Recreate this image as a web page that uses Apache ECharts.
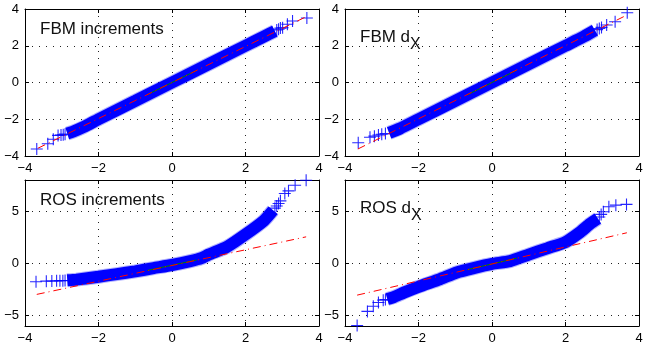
<!DOCTYPE html>
<html>
<head>
<meta charset="utf-8">
<script src="https://cdn.jsdelivr.net/npm/echarts@6/dist/echarts.min.js"></script>
<style>
  html, body { margin: 0; padding: 0; background: #fff; }
  #chart { width: 647px; height: 347px; }
</style>
</head>
<body>
<div id="chart"></div>
<script>
// panel titles ({sub|..} is the subscript)
const titles = ['FBM increments', 'FBM d{sub|X}', 'ROS increments', 'ROS d{sub|X}'];

// axis ticks
const xTicks = [-4, -2, 0, 2, 4];
const topYTicks = [-4, -2, 0, 2, 4];
const bottomYTicks = [-5, 0, 5];
const bottomYRange = [-6, 8];

// dense middle of each QQ cloud: [normal quantile, sample quantile]
const fbmIncBand = [[-2.85, -2.78], [-2.7, -2.68], [-2.4, -2.42], [-2.0, -2.0], [-1.0, -1.0], [0, 0], [1.0, 1.0], [2.0, 2.0], [2.5, 2.5], [2.8, 2.8]];
const fbmDxBand = [[-2.8, -2.74], [-2.5, -2.5], [-2.0, -2.0], [-1.0, -1.0], [0, 0], [1.0, 1.0], [2.0, 2.0], [2.5, 2.5], [2.8, 2.84]];
const rosIncBand = [[-2.85, -1.62], [-2.6, -1.55], [-2.0, -1.28], [-1.5, -1.02], [-1.0, -0.76], [-0.5, -0.45], [0, -0.15], [0.5, 0.22], [0.8, 0.5], [1.0, 0.85], [1.5, 1.6], [2.0, 2.78], [2.5, 4.1], [2.75, 5.1]];
const rosDxBand = [[-2.85, -3.42], [-2.69, -3.25], [-2.4, -2.8], [-2.0, -2.24], [-1.41, -1.5], [-0.96, -0.87], [-0.5, -0.45], [0, -0.05], [0.49, 0.22], [1.0, 0.85], [1.5, 1.45], [2.0, 2.05], [2.4, 3.0], [2.67, 3.8], [2.88, 4.3]];

// sparse tail points drawn as single crosses
const fbmIncTail = [[-3.68, -3.62], [-3.38, -3.33], [-3.23, -3.09], [-3.1, -2.88], [-3.02, -2.86], [-2.96, -2.84], [-2.91, -2.81], [2.85, 2.86], [2.9, 2.9], [2.95, 2.96], [3.01, 2.98], [3.14, 3.17], [3.28, 3.35], [3.67, 3.51]];
const fbmDxTail = [[-3.64, -3.28], [-3.32, -2.98], [-3.2, -2.92], [-3.09, -2.86], [-3.0, -2.82], [-2.9, -2.78], [2.86, 2.88], [2.92, 2.94], [2.98, 3.0], [3.12, 3.13], [3.35, 3.31], [3.68, 3.8]];
const rosIncTail = [[-3.7, -1.76], [-3.42, -1.7], [-3.27, -1.68], [-3.14, -1.67], [-3.05, -1.66], [-2.97, -1.65], [-2.91, -1.64], [2.8, 5.3], [2.85, 5.5], [2.9, 5.75], [2.95, 6.0], [3.07, 6.7], [3.17, 6.96], [3.35, 7.5], [3.65, 7.98]];
const rosDxTail = [[-3.67, -5.95], [-3.39, -4.6], [-3.23, -4.1], [-3.09, -3.74], [-2.96, -3.52], [-2.9, -3.46], [2.92, 4.45], [2.97, 4.7], [3.03, 4.95], [3.18, 5.43], [3.37, 5.59], [3.66, 5.66]];

// reference lines: dash-dot over the full range, solid between quartiles
const fbmIncFit = [[-3.65, -3.58], [3.65, 3.58]];
const fbmDxFit = [[-3.65, -3.62], [3.65, 3.65]];
const rosIncFit = [[-3.68, -2.97], [3.65, 2.55]];
const rosDxFit = [[-3.67, -3.04], [3.67, 2.94]];
const fbmIncQuart = [[-0.67, -0.66], [0.67, 0.66]];
const fbmDxQuart = [[-0.67, -0.67], [0.67, 0.67]];
const rosIncQuart = [[-0.67, -0.67], [0.67, 0.33]];
const rosDxQuart = [[-0.67, -0.6], [0.67, 0.5]];

const panels = [
  { band: fbmIncBand, tail: fbmIncTail, fit: fbmIncFit, quart: fbmIncQuart },
  { band: fbmDxBand, tail: fbmDxTail, fit: fbmDxFit, quart: fbmDxQuart },
  { band: rosIncBand, tail: rosIncTail, fit: rosIncFit, quart: rosIncQuart },
  { band: rosDxBand, tail: rosDxTail, fit: rosDxFit, quart: rosDxQuart }
];

const FONT = "'Liberation Sans', Arial, sans-serif";
const CROSS = 'path://M5,0h1v5h5v1h-5v5h-1v-5h-5v-1h5z';
const minus = (v) => String(v).replace('-', '\u2212');

const grids = [
  { left: 25, top: 9, width: 294, height: 147 },
  { left: 345, top: 9, width: 294, height: 147 },
  { left: 25, top: 180, width: 294, height: 146 },
  { left: 345, top: 180, width: 294, height: 146 }
];

const frameLine = { show: true, onZero: false, lineStyle: { color: '#000', width: 1 } };
const tickIn = (vals) => ({ show: true, inside: true, length: 4, customValues: vals, lineStyle: { color: '#000' } });
const labelStyle = (vals, margin) => ({
  show: true, customValues: vals, color: '#000', fontSize: 13, fontFamily: FONT, margin: margin, formatter: minus
});

const xAxis = [];
const yAxis = [];
grids.forEach((g, i) => {
  const bottom = i >= 2;
  const yMin = bottom ? bottomYRange[0] : topYTicks[0];
  const yMax = bottom ? bottomYRange[1] : topYTicks[topYTicks.length - 1];
  const yTicks = bottom ? bottomYTicks : topYTicks;
  xAxis.push({
    type: 'value', gridIndex: i, position: 'bottom', min: -4, max: 4,
    axisLine: frameLine, axisTick: tickIn(xTicks), axisLabel: labelStyle(xTicks, 6),
    splitLine: { show: true, lineStyle: { color: '#222', width: 1, type: [1, 6] } }
  });
  xAxis.push({
    type: 'value', gridIndex: i, position: 'top', min: -4, max: 4,
    axisLine: frameLine, axisTick: tickIn(xTicks), axisLabel: { show: false }, splitLine: { show: false }
  });
  yAxis.push({
    type: 'value', gridIndex: i, position: 'left', min: yMin, max: yMax,
    axisLine: frameLine, axisTick: tickIn(yTicks), axisLabel: labelStyle(yTicks, 6),
    splitLine: { show: true, lineStyle: { color: '#222', width: 1, type: [1, 6] } }
  });
  yAxis.push({
    type: 'value', gridIndex: i, position: 'right', min: yMin, max: yMax,
    axisLine: frameLine, axisTick: tickIn(yTicks), axisLabel: { show: false }, splitLine: { show: false }
  });
});

const series = [];
panels.forEach((p, i) => {
  const ax = { xAxisIndex: 2 * i, yAxisIndex: 2 * i };
  // soft fringe of the overlapping crosses
  series.push({
    type: 'line', ...ax, data: p.band, smooth: 0.2, showSymbol: false, silent: true,
    lineStyle: { color: 'rgba(0,0,255,0.3)', width: 14, cap: 'butt' }, z: 1
  });
  series.push({
    type: 'line', ...ax, data: p.band, smooth: 0.2, showSymbol: false, silent: true,
    lineStyle: { color: '#0000ff', width: 12, cap: 'butt' }, z: 2
  });
  series.push({
    type: 'scatter', ...ax, data: p.tail, symbol: CROSS, symbolSize: 12, clip: false, silent: true,
    itemStyle: { color: '#0000ff', opacity: 0.85 }, z: 3
  });
  series.push({
    type: 'line', ...ax, data: p.quart, showSymbol: false, silent: true,
    lineStyle: { color: '#008000', width: 1 }, z: 4
  });
  series.push({
    type: 'line', ...ax, data: p.fit, showSymbol: false, silent: true,
    lineStyle: { color: '#ff0000', width: 1, type: [8, 4, 1, 4] }, z: 5
  });
});

const titlePos = [[40, 21], [360, 21], [40, 192], [360, 192]];
const title = titles.map((t, i) => ({
  text: t, left: titlePos[i][0], top: titlePos[i][1], padding: 0,
  textStyle: {
    color: '#111', fontSize: 17, fontWeight: 'normal', fontFamily: FONT,
    rich: { sub: { fontSize: 16, fontFamily: FONT, color: '#111', padding: [16, 0, 0, 0] } }
  }
}));

const chart = echarts.init(document.getElementById('chart'), null, { renderer: 'canvas' });
chart.setOption({
  animation: false,
  backgroundColor: '#fff',
  title: title,
  grid: grids,
  xAxis: xAxis,
  yAxis: yAxis,
  series: series
});
</script>
</body>
</html>
